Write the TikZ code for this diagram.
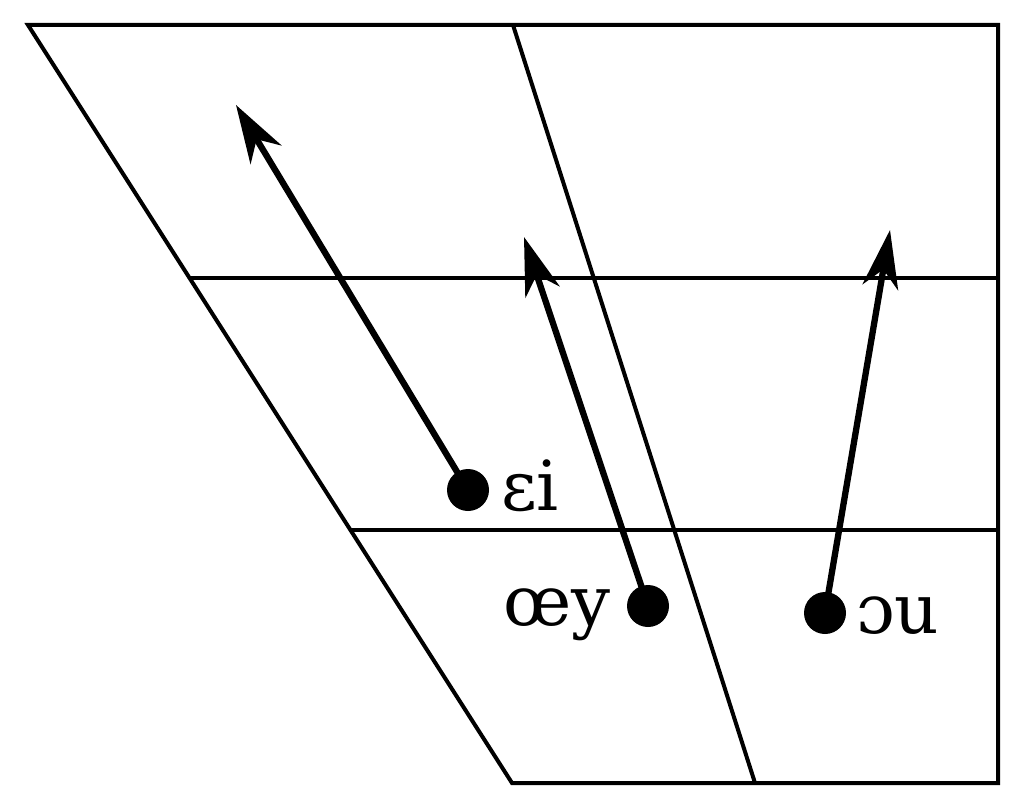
\documentclass[tikz,border=0pt]{standalone}
\usepackage{fontspec}
\setmainfont{DejaVu Serif}
\usetikzlibrary{arrows.meta}
\begin{document}
\begin{tikzpicture}[x=1pt,y=-1pt,
  grid/.style={line width=4pt,line join=miter},
  arr/.style={line width=6.3pt,-{Stealth[length=58pt,width=36pt,inset=18pt]}},
  dot/.style={circle,fill=black,inner sep=0pt,minimum size=42pt},
  lab/.style={anchor=base west,inner sep=0pt,font=\fontsize{69}{69}\selectfont}]
\useasboundingbox (0,0) rectangle (1024,810);
\coordinate (tl) at (28,25);
\coordinate (tr) at (998,25);
\coordinate (br) at (998,783);
\coordinate (bl) at (512,783);
\coordinate (mt) at (513,25);
\coordinate (mb) at (755,783);
\coordinate (h1l) at (190,278);
\coordinate (h1r) at (998,278);
\coordinate (h2l) at (351,530);
\coordinate (h2r) at (998,530);
\draw[grid] (tl) -- (tr) -- (br) -- (bl) -- cycle;
\draw[grid] (mt) -- (mb);
\draw[grid] (h1l) -- (h1r);
\draw[grid] (h2l) -- (h2r);
\node[dot] (d1) at (468,490) {};
\node[dot] (d2) at (648,606) {};
\node[dot] (d3) at (825,613) {};
\coordinate (t1) at (236,105);
\coordinate (t2) at (524,237);
\coordinate (t3) at (890,230);
\draw[arr] (d1.center) -- (t1);
\draw[arr] (d2.center) -- (t2);
\draw[arr] (d3.center) -- (t3);
\node[lab] (l1) at (501,510) {ɛi};
\node[lab] (l2) at (503,625) {œy};
\node[lab] (l3) at (856,633) {ɔu};
\end{tikzpicture}
\end{document}
